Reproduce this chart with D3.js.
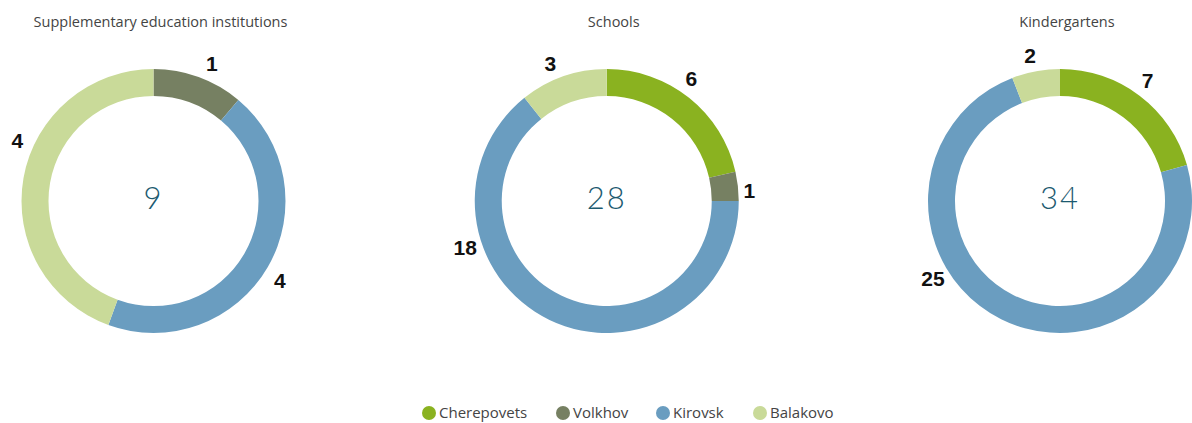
<!DOCTYPE html>
<html>
<head>
<meta charset="utf-8">
<script src="https://cdn.jsdelivr.net/npm/d3@7"></script>
<style>
  html, body { margin: 0; padding: 0; background: #fff; }
  svg { display: block; }
</style>
</head>
<body>
<svg id="chart" width="1192" height="423"></svg>
<script>
// ---- data ----
const cities = ["Cherepovets", "Volkhov", "Kirovsk", "Balakovo"];
const charts = ["Supplementary education institutions", "Schools", "Kindergartens"];
const supplementaryValues = [0, 1, 4, 4];
const schoolValues = [6, 1, 18, 3];
const kindergartenValues = [7, 0, 25, 2];
const totals = ["9", "28", "34"];

// ---- styling / layout ----
const colors = ["#8ab220", "#768062", "#6a9dc0", "#c9da99"];
const labelShift = [   // degrees, nudges label placement along the ring
  [0, 3, 2, 14],
  [-4, 2, 46, -3],
  [-1, 0, 32, -1]
];
const seriesValues = [supplementaryValues, schoolValues, kindergartenValues];

const svg = d3.select("#chart");
const outerR = 132, innerR = 105, labelR = 149;
const cy = 201;
const cx = d3.scalePoint().domain(charts).range([153.5, 1060]);
const color = d3.scaleOrdinal().domain(cities).range(colors);

const pie = d3.pie().sort(null).value(d => d.value).startAngle(0).endAngle(2 * Math.PI);
const arc = d3.arc().innerRadius(innerR).outerRadius(outerR);

charts.forEach((name, ci) => {
  const g = svg.append("g").attr("transform", `translate(${cx(name)},${cy})`);
  const data = cities.map((c, i) => ({ city: c, value: seriesValues[ci][i], idx: i }));
  const arcs = pie(data).filter(a => a.data.value > 0);
  const labelAngle = d => (d.startAngle + d.endAngle) / 2 + labelShift[ci][d.data.idx] * Math.PI / 180;
  // narrow labels sitting beside the ring's side need less clearance
  const labelRadius = d => labelR - 6 * Math.abs(Math.sin(labelAngle(d))) * (String(d.data.value).length === 1 ? 1 : 0) * (Math.abs(Math.sin(labelAngle(d))) > 0.95 ? 1 : 0);

  g.selectAll("path.slice")
    .data(arcs)
    .join("path")
    .attr("class", "slice")
    .attr("d", arc)
    .attr("fill", d => color(d.data.city));

  g.selectAll("text.lbl")
    .data(arcs)
    .join("text")
    .attr("class", "lbl")
    .attr("x", d => labelRadius(d) * Math.sin(labelAngle(d)))
    .attr("y", d => -labelRadius(d) * Math.cos(labelAngle(d)))
    .attr("text-anchor", "middle")
    .attr("dy", "0.36em")
    .attr("font-family", "'Liberation Sans', Arial, sans-serif")
    .attr("font-weight", "bold")
    .attr("font-size", 21)
    .attr("fill", "#111")
    .text(d => d.data.value);

  g.append("text")
    .attr("x", 0)
    .attr("y", -3)
    .attr("dy", "0.36em")
    .attr("text-anchor", "middle")
    .attr("font-family", "Lato, 'Open Sans', sans-serif")
    .attr("font-weight", 300)
    .attr("font-size", 31)
    .attr("letter-spacing", 2)
    .attr("fill", "#1c5a70")
    .text(totals[ci]);

  svg.append("text")
    .attr("x", cx(name) + 7)
    .attr("y", 27)
    .attr("text-anchor", "middle")
    .attr("font-family", "'Open Sans', 'Noto Sans', sans-serif")
    .attr("font-size", 14.5)
    .attr("fill", "#444")
    .text(name);
});

// ---- legend ----
const legendX = d3.scaleOrdinal().domain(cities).range([429, 563, 663, 760]);
const lg = svg.append("g");
cities.forEach(c => {
  lg.append("circle").attr("cx", legendX(c)).attr("cy", 413).attr("r", 7).attr("fill", color(c));
  lg.append("text")
    .attr("x", legendX(c) + 10)
    .attr("y", 413)
    .attr("dy", "0.35em")
    .attr("font-family", "'Open Sans', 'Noto Sans', sans-serif")
    .attr("font-size", 15)
    .attr("fill", "#444")
    .text(c);
});
</script>
</body>
</html>
